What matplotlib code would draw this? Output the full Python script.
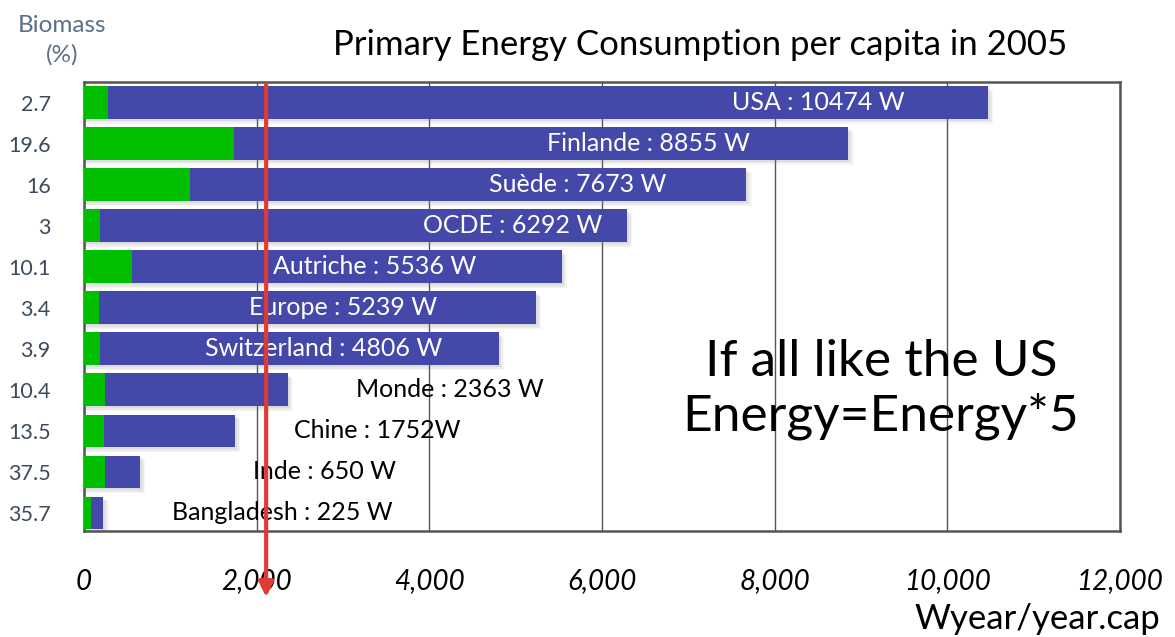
import matplotlib
matplotlib.use('Agg')
import matplotlib.pyplot as plt
import numpy as np

# donnees
pays = ['USA', 'Finlande', 'Suède', 'OCDE', 'Autriche', 'Europe', 'Switzerland',
        'Monde', 'Chine', 'Inde', 'Bangladesh']
energie = [10474, 8855, 7673, 6292, 5536, 5239, 4806, 2363, 1752, 650, 225]
biomasse = [2.7, 19.6, 16, 3, 10.1, 3.4, 3.9, 10.4, 13.5, 37.5, 35.7]
etiquettes = ['USA : 10474 W', 'Finlande : 8855 W', 'Suède : 7673 W', 'OCDE : 6292 W',
              'Autriche : 5536 W', 'Europe : 5239 W', 'Switzerland : 4806 W',
              'Monde : 2363 W', 'Chine : 1752W', 'Inde : 650 W', 'Bangladesh : 225 W']
# position (centre) des etiquettes en W
pos_etiq = [8510, 6540, 5720, 4960, 3370, 3000, 2770, 4240, 3400, 2780, 2300]
xticks = [0, 2000, 4000, 6000, 8000, 10000, 12000]
moyenne = 2110

bleu = '#4448a8'
vert = '#00bf00'
police = 'Lato'

fig = plt.figure(figsize=(11.75, 6.37), dpi=100)
ax = fig.add_axes([84/1175, 106/637, 1036/1175, 449/637])

n = len(pays)
y = np.arange(n)[::-1]
h = 0.8
green = [e*b/100 for e, b in zip(energie, biomasse)]

# ombre
for dx, dy, a in [(60, -0.12, 0.08), (40, -0.08, 0.10), (20, -0.05, 0.13)]:
    ax.barh(y + dy, [e + dx for e in energie], height=h, color='#888888', alpha=a,
            linewidth=0, zorder=2)
ax.barh(y, energie, height=h, color=bleu, linewidth=0, zorder=3)
ax.barh(y, green, height=h, color=vert, linewidth=0, zorder=4)

for i in range(n):
    col = 'white' if i < 7 else 'black'
    ax.text(pos_etiq[i], y[i], etiquettes[i], color=col, ha='center', va='center',
            fontsize=18, family=police, zorder=6)

ax.set_xlim(0, 12000)
ax.set_ylim(-0.44, n - 1 + 0.507)
ax.set_xticks(xticks)
ax.set_xticklabels(['{:,}'.format(t) for t in xticks], fontsize=20, style='italic',
                   family=police)
ax.set_yticks(y)
ax.set_yticklabels([str(b) for b in biomasse], fontsize=15.5, color='#3d4a5c', family=police)
ax.tick_params(axis='both', length=0)
ax.tick_params(axis='x', pad=27)
ax.tick_params(axis='y', pad=24)
ax.grid(axis='x', color='#555555', linewidth=1, zorder=1)
ax.set_axisbelow(True)
for s in ax.spines.values():
    s.set_color('#555555')
    s.set_linewidth(1.8)

# fleche rouge
ax.annotate('', xy=(moyenne, -2.05), xytext=(moyenne, n - 1 + 0.45),
            arrowprops=dict(arrowstyle='-|>', color='#e03a35', lw=3, mutation_scale=22,
                            shrinkA=0, shrinkB=0),
            annotation_clip=False, zorder=7)

fig.text(700/1175, 1 - 45/637, 'Primary Energy Consumption per capita in 2005',
         ha='center', va='center', fontsize=25, family=police)
fig.text(62/1175, 1 - 40/637, 'Biomass\n(%)', ha='center', va='center', fontsize=17.5,
         color='#5a7088', family=police, linespacing=1.45)
fig.text(1160/1175, 1 - 619/637, 'Wyear/year.cap', ha='right', va='center', fontsize=25,
         family=police)
ax.text(9230, 3.0, 'If all like the US\nEnergy=Energy*5', ha='center', va='center',
        fontsize=37, family=police, linespacing=1.2, zorder=6)

fig.savefig('out.png', dpi=100)
